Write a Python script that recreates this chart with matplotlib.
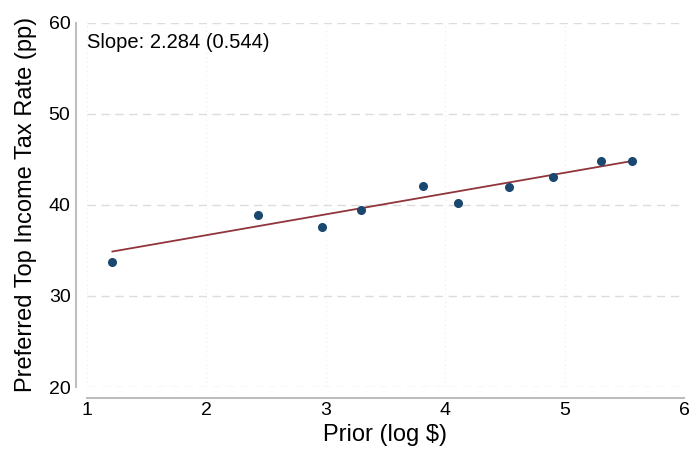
import numpy as np
import matplotlib.pyplot as plt

plt.rcParams['font.family'] = ['Liberation Sans', 'DejaVu Sans']

# binned means: log prior vs preferred top rate
prior = [1.215, 2.432, 2.967, 3.292, 3.819, 4.111, 4.531, 4.907, 5.308, 5.565]
rate = [33.76, 38.89, 37.53, 39.40, 42.08, 40.21, 41.92, 43.10, 44.82, 44.78]

# linear fit
slope = 2.284
se = 0.544
intercept = 32.1

xticks = [1, 2, 3, 4, 5, 6]
yticks = [20, 30, 40, 50, 60]

fig = plt.figure(figsize=(6.91, 4.5), dpi=100)
ax = fig.add_axes([0.1255, 0.14, 0.8644, 0.8096])

ax.set_xlim(1, 6)
ax.set_ylim(20, 60)

for y in yticks:
    ax.axhline(y, color='#dcdcdc', lw=1, ls=(0, (6, 4)), zorder=0)
for x in xticks:
    ax.axvline(x, color='#ececec', lw=0.8, ls=(0, (1, 3)), zorder=0)

xs = np.array([min(prior), max(prior)])
ax.plot(xs, intercept + slope * xs, color='#90353b', lw=1.3, zorder=2)
ax.plot(prior, rate, 'o', color='#1a476f', ms=5.5, zorder=3)

ax.text(0.001, 0.9305, f'Slope: {slope:.3f} ({se:.3f})', transform=ax.transAxes,
        fontsize=14.5, ha='left', va='baseline')

ax.set_xticks(xticks)
ax.set_yticks(yticks)
ax.tick_params(length=0, labelsize=14, pad=4)
ax.tick_params(axis='x', pad=3)

for s in ['top', 'right']:
    ax.spines[s].set_visible(False)
for s in ['left', 'bottom']:
    ax.spines[s].set_color('#bdbdbd')
    ax.spines[s].set_linewidth(1.5)
    ax.spines[s].set_position(('outward', 7.7))
ax.spines['left'].set_bounds(20, 60)
ax.spines['bottom'].set_bounds(1, 6)

ax.set_xlabel('Prior (log $)', fontsize=17, labelpad=4)
ax.set_ylabel('Preferred Top Income Tax Rate (pp)', fontsize=17, labelpad=8)

fig.savefig('out.png', dpi=100)
